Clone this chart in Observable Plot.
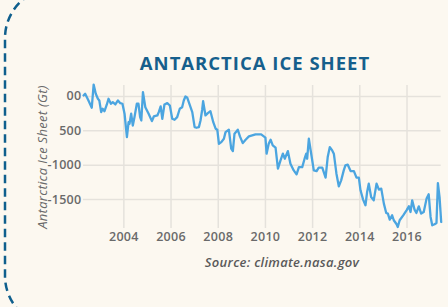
<!DOCTYPE html>
<html>
<head>
<meta charset="utf-8">
<script src="https://cdn.jsdelivr.net/npm/d3@7"></script>
<script src="https://cdn.jsdelivr.net/npm/@observablehq/plot@0.6"></script>
<style>
  html, body { margin: 0; padding: 0; }
  body { width: 448px; height: 307px; background: #fcf8f0; overflow: hidden; position: relative; font-family: "Open Sans", sans-serif; }
  #chart { position: absolute; left: 0; top: 0; }
  #title { position: absolute; left: 0; width: 510px; top: 50px; text-align: center; font-weight: 700; font-size: 18.5px; color: #165f8c; letter-spacing: 1px; }
  #caption { position: absolute; left: 0; width: 564px; top: 253px; text-align: center; font-style: italic; font-weight: 600; font-size: 13px; color: #5a5a5a; letter-spacing: 0.3px; }
  #border { position: absolute; left: 0; top: 0; }
</style>
</head>
<body>
<svg id="border" width="448" height="307"><rect x="5" y="-12" width="600" height="338" rx="50" ry="50" fill="none" stroke="#0f5f8d" stroke-width="2.5" stroke-dasharray="8.5 5"/></svg>
<div id="chart"></div>
<div id="title">ANTARCTICA ICE SHEET</div>
<div id="caption">Source: climate.nasa.gov</div>
<script>
const years = [2002.29,2002.36,2002.50,2002.64,2002.72,2002.81,2002.90,2002.96,2003.04,2003.10,2003.18,2003.28,2003.35,2003.45,2003.53,2003.64,2003.75,2003.85,2003.94,2004.03,2004.13,2004.20,2004.24,2004.31,2004.38,2004.45,2004.55,2004.62,2004.69,2004.74,2004.81,2004.91,2005.05,2005.19,2005.27,2005.42,2005.48,2005.56,2005.63,2005.72,2005.84,2005.95,2006.05,2006.15,2006.26,2006.37,2006.47,2006.54,2006.61,2006.69,2006.80,2006.90,2007.00,2007.08,2007.18,2007.25,2007.32,2007.36,2007.46,2007.56,2007.67,2007.79,2007.89,2007.96,2008.03,2008.13,2008.24,2008.31,2008.45,2008.55,2008.62,2008.69,2008.83,2008.92,2009.04,2009.16,2009.30,2009.44,2009.58,2009.72,2009.82,2009.93,2010.00,2010.05,2010.14,2010.22,2010.31,2010.43,2010.53,2010.64,2010.74,2010.82,2010.95,2011.06,2011.20,2011.32,2011.42,2011.56,2011.66,2011.73,2011.77,2011.84,2011.94,2012.05,2012.17,2012.26,2012.41,2012.55,2012.64,2012.73,2012.83,2012.90,2013.01,2013.11,2013.21,2013.32,2013.39,2013.49,2013.61,2013.75,2013.86,2013.96,2014.03,2014.14,2014.24,2014.31,2014.38,2014.48,2014.59,2014.71,2014.81,2014.91,2015.02,2015.12,2015.19,2015.27,2015.37,2015.44,2015.56,2015.61,2015.69,2015.84,2015.98,2016.08,2016.15,2016.22,2016.32,2016.40,2016.50,2016.60,2016.71,2016.83,2016.92,2017.00,2017.07,2017.17,2017.25,2017.31,2017.38,2017.45];
const massGt = [15,40,-58,-164,174,39,-33,-58,-228,-179,-214,-116,-33,-106,-83,-116,-58,-97,-106,-251,-592,-374,-397,-251,-422,-301,-106,-106,-301,-349,63,-156,-251,-359,-291,-276,-228,-145,-324,-116,-97,-131,-324,-339,-301,-179,-156,-58,0,-19,-131,-228,-446,-455,-446,-349,-193,-68,-276,-243,-214,-374,-469,-484,-688,-664,-615,-519,-484,-760,-795,-542,-484,-581,-679,-629,-581,-567,-552,-552,-552,-581,-600,-833,-688,-629,-712,-746,-1051,-930,-833,-906,-795,-978,-1076,-1134,-1028,-1028,-906,-833,-906,-615,-833,-1076,-1086,-1036,-1036,-1182,-882,-737,-785,-833,-1124,-1308,-1221,-1076,-1003,-993,-1086,-1086,-1182,-1182,-1366,-1501,-1584,-1391,-1269,-1464,-1512,-1269,-1356,-1342,-1560,-1696,-1705,-1792,-1730,-1802,-1860,-1900,-1802,-1730,-1657,-1599,-1682,-1512,-1647,-1696,-1599,-1705,-1682,-1487,-1424,-1754,-1875,-1860,-1842,-1260,-1464,-1827];
const xTicks = [2004, 2006, 2008, 2010, 2012, 2014, 2016];
const yTicks = [0, -500, -1000, -1500];
const yTickLabels = ["00", "500", "-1000", "-1500"];
const yTitle = "Antarctica Ice Sheet (Gt)";

const data = years.map((year, i) => ({year, value: massGt[i]}));

const chart = Plot.plot({
  width: 448,
  height: 307,
  marginTop: 85,
  marginBottom: 79,
  marginLeft: 83,
  marginRight: 7.3,
  style: {background: "transparent", fontFamily: "Open Sans", fontSize: "12.5px", fontWeight: 600, color: "#6a6a6a", overflow: "visible", letterSpacing: "0.3px"},
  x: {domain: [2002.29, 2017.45], label: null},
  y: {domain: [-1922, 160], label: null},
  marks: [
    Plot.gridX(xTicks, {stroke: "#e5e2dc", strokeOpacity: 1, strokeWidth: 1.5}),
    Plot.gridY(yTicks, {stroke: "#e5e2dc", strokeOpacity: 1, strokeWidth: 1.5}),
    Plot.axisX(xTicks, {tickSize: 0, tickPadding: 4, tickFormat: d => String(d), label: null}),
    Plot.axisY(yTicks, {tickSize: 0, tickPadding: 2, tickFormat: d => yTickLabels[yTicks.indexOf(d)], label: null}),
    Plot.line(data, {x: "year", y: "value", stroke: "#4ba5e0", strokeWidth: 2.3, curve: "linear"}),
    Plot.text([yTitle], {frameAnchor: "left", textAnchor: "middle", rotate: -90, dx: -41, text: d => d, fontStyle: "italic", fontWeight: 500, fontSize: 13, fill: "#6a6a6a"})
  ]
});
document.getElementById("chart").appendChild(chart);
</script>
</body>
</html>
